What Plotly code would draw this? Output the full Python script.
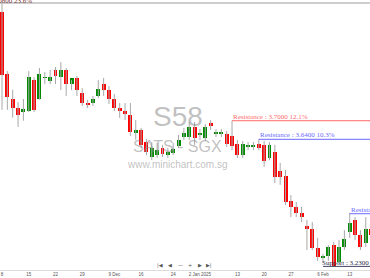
import plotly.graph_objects as go

dates = [
    "2024-11-08", "2024-11-11", "2024-11-12", "2024-11-13", "2024-11-14", "2024-11-15",
    "2024-11-18", "2024-11-19", "2024-11-20", "2024-11-21", "2024-11-22",
    "2024-11-25", "2024-11-26", "2024-11-27", "2024-11-28", "2024-11-29",
    "2024-12-02", "2024-12-03", "2024-12-04", "2024-12-05", "2024-12-06",
    "2024-12-09", "2024-12-10", "2024-12-11", "2024-12-12", "2024-12-13",
    "2024-12-16", "2024-12-17", "2024-12-18", "2024-12-19", "2024-12-20",
    "2024-12-23", "2024-12-24", "2024-12-26", "2024-12-27", "2024-12-30", "2024-12-31",
    "2025-01-02", "2025-01-03", "2025-01-06", "2025-01-07", "2025-01-08", "2025-01-09", "2025-01-10",
    "2025-01-13", "2025-01-14", "2025-01-15", "2025-01-16", "2025-01-17",
    "2025-01-20", "2025-01-21", "2025-01-22", "2025-01-23", "2025-01-24",
    "2025-01-27", "2025-01-28", "2025-01-31",
    "2025-02-03", "2025-02-04", "2025-02-05", "2025-02-06", "2025-02-07",
    "2025-02-10", "2025-02-11", "2025-02-12", "2025-02-13", "2025-02-14",
    "2025-02-17", "2025-02-18", "2025-02-19",
]

opens = [4.050, 3.850, 3.770, 3.740, 3.728, 3.730, 3.830, 3.770, 3.838, 3.828,
         3.864, 3.841, 3.864, 3.818, 3.838, 3.789, 3.757, 3.757, 3.780, 3.818,
         3.799, 3.770, 3.741, 3.731, 3.718, 3.660, 3.670, 3.631, 3.583, 3.589,
         3.612, 3.589, 3.596, 3.618, 3.647, 3.647, 3.680, 3.657, 3.644, 3.693,
         3.660, 3.660, 3.657, 3.651, 3.625, 3.589, 3.618, 3.618, 3.625, 3.622,
         3.580, 3.599, 3.538, 3.522, 3.441, 3.422, 3.403, 3.360, 3.351, 3.290,
         3.257, 3.264, 3.299, 3.244, 3.293, 3.341, 3.380, 3.331, 3.305, 3.351]
highs = [4.080, 3.860, 3.800, 3.760, 3.770, 3.860, 3.840, 3.870, 3.857, 3.864,
         3.873, 3.889, 3.870, 3.831, 3.844, 3.805, 3.767, 3.780, 3.831, 3.838,
         3.812, 3.786, 3.757, 3.757, 3.757, 3.702, 3.677, 3.641, 3.631, 3.628,
         3.622, 3.612, 3.628, 3.654, 3.677, 3.696, 3.696, 3.673, 3.689, 3.702,
         3.673, 3.673, 3.667, 3.700, 3.638, 3.635, 3.631, 3.631, 3.640, 3.635,
         3.631, 3.622, 3.564, 3.541, 3.460, 3.438, 3.422, 3.380, 3.373, 3.322,
         3.270, 3.299, 3.309, 3.315, 3.347, 3.403, 3.389, 3.347, 3.389, 3.364]
lows = [3.735, 3.735, 3.710, 3.680, 3.700, 3.728, 3.728, 3.768, 3.818, 3.818,
        3.818, 3.799, 3.780, 3.799, 3.780, 3.747, 3.741, 3.747, 3.773, 3.780,
        3.754, 3.731, 3.709, 3.702, 3.651, 3.638, 3.612, 3.589, 3.573, 3.580,
        3.583, 3.580, 3.589, 3.612, 3.638, 3.638, 3.622, 3.638, 3.635, 3.670,
        3.647, 3.647, 3.615, 3.605, 3.580, 3.580, 3.605, 3.605, 3.605, 3.551,
        3.573, 3.499, 3.493, 3.428, 3.389, 3.389, 3.373, 3.283, 3.283, 3.248,
        3.244, 3.248, 3.230, 3.238, 3.283, 3.322, 3.315, 3.283, 3.293, 3.315]
closes = [3.847, 3.778, 3.741, 3.720, 3.738, 3.841, 3.735, 3.850, 3.838, 3.841,
          3.844, 3.864, 3.818, 3.838, 3.799, 3.757, 3.751, 3.770, 3.802, 3.799,
          3.770, 3.741, 3.731, 3.722, 3.664, 3.670, 3.622, 3.599, 3.612, 3.605,
          3.593, 3.599, 3.609, 3.638, 3.660, 3.680, 3.644, 3.657, 3.680, 3.683,
          3.660, 3.660, 3.625, 3.618, 3.589, 3.625, 3.618, 3.618, 3.612, 3.570,
          3.622, 3.518, 3.518, 3.438, 3.422, 3.403, 3.389, 3.351, 3.290, 3.261,
          3.264, 3.293, 3.231, 3.293, 3.318, 3.370, 3.331, 3.293, 3.351, 3.331]

tick_dates = ["2024-11-08", "2024-11-15", "2024-11-22", "2024-11-29", "2024-12-09",
              "2024-12-16", "2024-12-24", "2025-01-02", "2025-01-13", "2025-01-20",
              "2025-01-27", "2025-02-06", "2025-02-13"]
tick_labels = ["8", "15", "22", "29", "9 Dec", "16", "24", "2 Jan 2025", "13", "20",
               "27", "6 Feb", "13"]

fib_level = 4.08
fib_label = "4.0800 23.6%"
res_levels = [3.70, 3.64, 3.40]
res_labels = ["Resistance : 3.7000 12.1%", "Resistance : 3.6400 10.3%", "Resistance : 3.4000 3.0%"]
res_start = [43, 48, 65]
res_colors = ["#ff6a6a", "#6a6aff", "#6a6aff"]
sup_level = 3.23
sup_label = "Support : 3.2300"
sup_start = 60

RED = "#ff0000"
GREEN = "#008a00"

# wick segments
wx, wy = [], []
for d, h, l in zip(dates, highs, lows):
    wx += [d, d, None]
    wy += [l, h, None]

body_base = [min(o, c) for o, c in zip(opens, closes)]
body_h = [max(abs(c - o), 0.003) for o, c in zip(opens, closes)]
body_col = [GREEN if c >= o else RED for o, c in zip(opens, closes)]

fig = go.Figure()
fig.add_trace(go.Scatter(x=wx, y=wy, mode="lines",
                         line=dict(color="#a8a8a8", width=1), hoverinfo="skip"))
fig.add_trace(go.Bar(x=dates, y=body_h, base=body_base, width=0.74,
                     marker=dict(color=body_col, line=dict(width=0))))

shapes = [dict(type="line", xref="paper", x0=0, x1=1, yref="y", y0=fib_level, y1=fib_level,
               line=dict(color="#bdbdbd", width=1.5))]
annotations = [dict(xref="paper", x=-0.025, yref="y", y=fib_level, text=fib_label,
                    showarrow=False, xanchor="left", yanchor="bottom", yshift=-4,
                    font=dict(family="Liberation Serif", size=7, color="#7a3a3a"))]
for lvl, lab, st, col in zip(res_levels, res_labels, res_start, res_colors):
    shapes.append(dict(type="line", xref="x", x0=st, x1=75, yref="y", y0=lvl, y1=lvl,
                       line=dict(color=col, width=1)))
    annotations.append(dict(xref="x", x=st, yref="y", y=lvl, text=lab, showarrow=False,
                            xanchor="left", yanchor="bottom", yshift=-2, xshift=-1,
                            font=dict(family="Liberation Serif", size=7, color=col)))
shapes.append(dict(type="line", xref="x", x0=sup_start, x1=75, yref="y", y0=sup_level, y1=sup_level,
                   line=dict(color="#444466", width=1)))
annotations.append(dict(xref="x", x=sup_start, yref="y", y=sup_level, text=sup_label,
                        showarrow=False, xanchor="left", yanchor="bottom", yshift=-3, xshift=-3,
                        font=dict(family="Liberation Serif", size=7, color="#2a2a4a")))

# watermark
wm = "rgba(140,140,140,0.55)"
annotations += [
    dict(xref="paper", yref="paper", x=0.481, y=0.567, text="S58", showarrow=False,
         font=dict(family="Liberation Sans", size=28, color=wm)),
    dict(xref="paper", yref="paper", x=0.481, y=0.456, text="SATS - SGX", showarrow=False,
         font=dict(family="Liberation Sans", size=16, color=wm)),
    dict(xref="paper", yref="paper", x=0.478, y=0.391, text="www.minichart.com.sg", showarrow=False,
         font=dict(family="Liberation Sans", size=10, color=wm)),
]
# navigation buttons
nav = [("|◀", 160), ("◀", 170), ("—", 180), ("+", 189.5), ("▶", 199.5), ("▶|", 209)]
for t, px in nav:
    annotations.append(dict(xref="paper", yref="paper", x=px / 370, y=(270 - 265) / 270,
                            text=t, showarrow=False, xanchor="center", yanchor="middle",
                            font=dict(family="DejaVu Sans", size=5, color="#555555")))

fig.update_layout(
    width=370, height=278,
    margin=dict(l=0, r=0, t=0, b=8),
    paper_bgcolor="white", plot_bgcolor="white",
    showlegend=False, bargap=0,
    shapes=shapes, annotations=annotations,
    xaxis=dict(type="category", range=[-0.374, 68.79], tickmode="array",
               tickvals=tick_dates, ticktext=tick_labels, showgrid=False,
               showline=True, linecolor="#dddddd", linewidth=1, ticks="",
               tickfont=dict(family="Liberation Sans", size=4.5, color="#555555"),
               fixedrange=True, rangeslider=dict(visible=False)),
    yaxis=dict(range=[3.2184, 4.0894], showgrid=False, zeroline=False,
               showticklabels=False, showline=False, fixedrange=True),
)

fig.write_html("out.html", config={"displayModeBar": False})
